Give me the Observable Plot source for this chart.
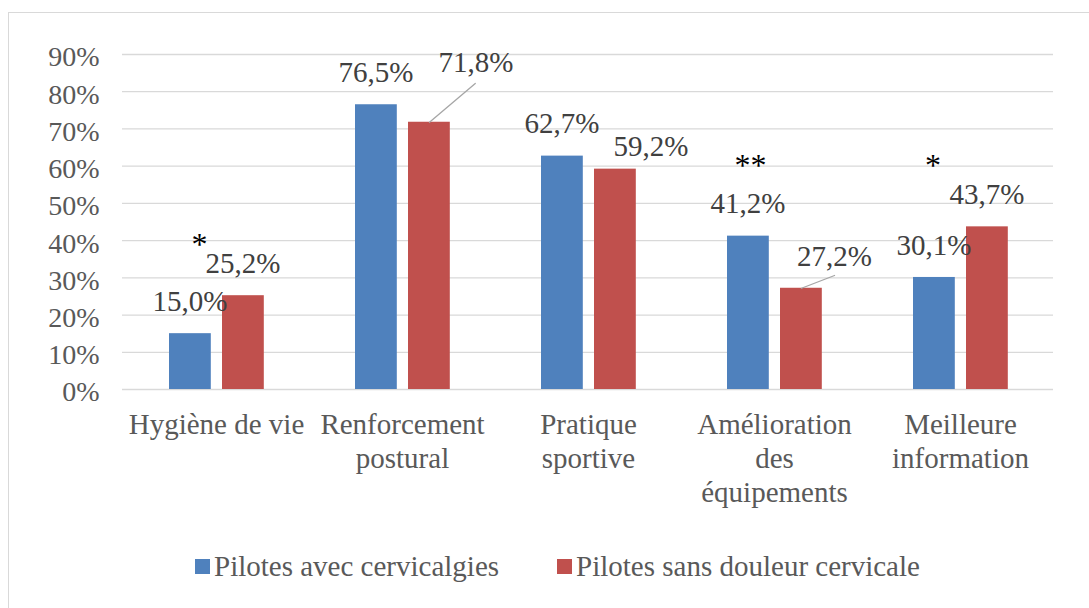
<!DOCTYPE html>
<html><head><meta charset="utf-8">
<script src="https://cdn.jsdelivr.net/npm/d3@7"></script>
<script src="https://cdn.jsdelivr.net/npm/@observablehq/plot@0.6"></script>
<style>
body{margin:0;background:#fff;font-family:"Liberation Serif","Times New Roman",Times,serif;width:1089px;height:608px;overflow:hidden;position:relative;}
#frame{position:absolute;left:8px;top:12px;width:1200px;height:700px;border-left:1px solid #d9d9d9;border-top:1px solid #d9d9d9;}
#chart{position:absolute;left:0;top:0;}
#legend{position:absolute;left:195px;top:550px;}
.leg-swatch{margin-right:58px !important;}
.leg-swatch > svg{margin-right:4px !important;}
</style></head><body>
<div id="frame"></div><div id="chart"></div><div id="legend"></div>
<script>
const categories = ["Hygiène de vie", "Renforcement postural", "Pratique sportive", "Amélioration des équipements", "Meilleure information"];
const categoryLabels = ["Hygiène de vie", "Renforcement\npostural", "Pratique\nsportive", "Amélioration\ndes\néquipements", "Meilleure\ninformation"];
const series = ["Pilotes avec cervicalgies", "Pilotes sans douleur cervicale"];
const withPain = [15.0, 76.5, 62.7, 41.2, 30.1];
const withoutPain = [25.2, 71.8, 59.2, 27.2, 43.7];
const significance = ["*", "", "", "**", "*"];
const yTicks = [0, 10, 20, 30, 40, 50, 60, 70, 80, 90];
const colors = ["#4f81bd", "#c0504d"];

const serifStack = '"Liberation Serif", "Times New Roman", Times, serif';

const blueRows = categories.map((c, i) => ({category: c, series: series[0], value: withPain[i]}));
const redRows = categories.map((c, i) => ({category: c, series: series[1], value: withoutPain[i]}));
const sigRows = categories.map((c, i) => ({category: c, sig: significance[i], top: Math.max(withPain[i], withoutPain[i])})).filter(d => d.sig);

const fmt = d => d.value.toFixed(1).replace(".", ",") + "%";
const labelFont = {fontSize: 29, fill: "#404040", fontFamily: serifStack};

// manual placement of some red labels (moved labels in the original), relative to default
const redLabelShift = {
  "Renforcement postural": [47, -28],
  "Pratique sportive": [36, 10],
  "Amélioration des équipements": [33.5, 0]
};
// leader lines [length px, angle deg]
const leaders = {
  "Renforcement postural": [60, 49.7],
  "Amélioration des équipements": [35.4, 68.9]
};
// asterisk placement relative to band centre / highest bar
const sigShift = {
  "Hygiène de vie": [-17, -51],
  "Amélioration des équipements": [-24, -70],
  "Meilleure information": [-27.6, -61]
};

const lineShape = {draw(context, l) { context.moveTo(0, 0); context.lineTo(0, -l); }};

const marks = [
  Plot.ruleY(yTicks, {stroke: "#d9d9d9", strokeWidth: 1.3}),
  Plot.barY(blueRows, {x: "category", y: "value", fill: "series", insetLeft: 46, insetRight: 98.2}),
  Plot.barY(redRows, {x: "category", y: "value", fill: "series", insetLeft: 99, insetRight: 45.2}),
  Plot.text(blueRows, {x: "category", y: "value", text: fmt, dx: -26.5, dy: -32, ...labelFont}),
  ...redRows.map(r => {
    const s = redLabelShift[r.category] || [0, 0];
    return Plot.text([r], {x: "category", y: "value", text: fmt, dx: 26.5 + s[0], dy: -32 + s[1], ...labelFont});
  }),
  ...redRows.filter(r => leaders[r.category]).map(r => Plot.vector([r], {
    x: "category", y: "value", dx: 27, length: leaders[r.category][0], rotate: leaders[r.category][1],
    anchor: "start", shape: lineShape, stroke: "#a6a6a6", strokeWidth: 1.3
  })),
  ...sigRows.map(r => Plot.text([r], {x: "category", y: "top", text: "sig", dx: sigShift[r.category][0], dy: sigShift[r.category][1], fontSize: 32, fill: "#000", fontFamily: serifStack})),
  Plot.axisY({ticks: yTicks, tickFormat: d => d + "%", tickSize: 0, tickPadding: 23, fontSize: 28, fill: "#595959", label: null, dy: 3, fontFamily: serifStack}),
  Plot.axisX({tickSize: 0, tickPadding: 21, fontSize: 29, fill: "#595959", lineHeight: 1.16, label: null, fontFamily: serifStack,
    tickFormat: d => categoryLabels[categories.indexOf(d)]})
];

const chart = Plot.plot({
  width: 1089, height: 530,
  marginLeft: 122, marginRight: 36, marginTop: 54, marginBottom: 141,
  x: {domain: categories, padding: 0},
  y: {domain: [0, 90]},
  color: {domain: series, range: colors},
  style: {fontFamily: serifStack, fontSize: "28px", background: "transparent", overflow: "visible"},
  marks
});
document.getElementById("chart").appendChild(chart);

const legend = Plot.legend({
  color: {domain: series, range: colors}, legend: "swatches", swatchSize: 15, className: "leg",
  style: {fontFamily: serifStack, fontSize: "29px", color: "#595959"}
});
document.getElementById("legend").appendChild(legend);
</script>
</body></html>
